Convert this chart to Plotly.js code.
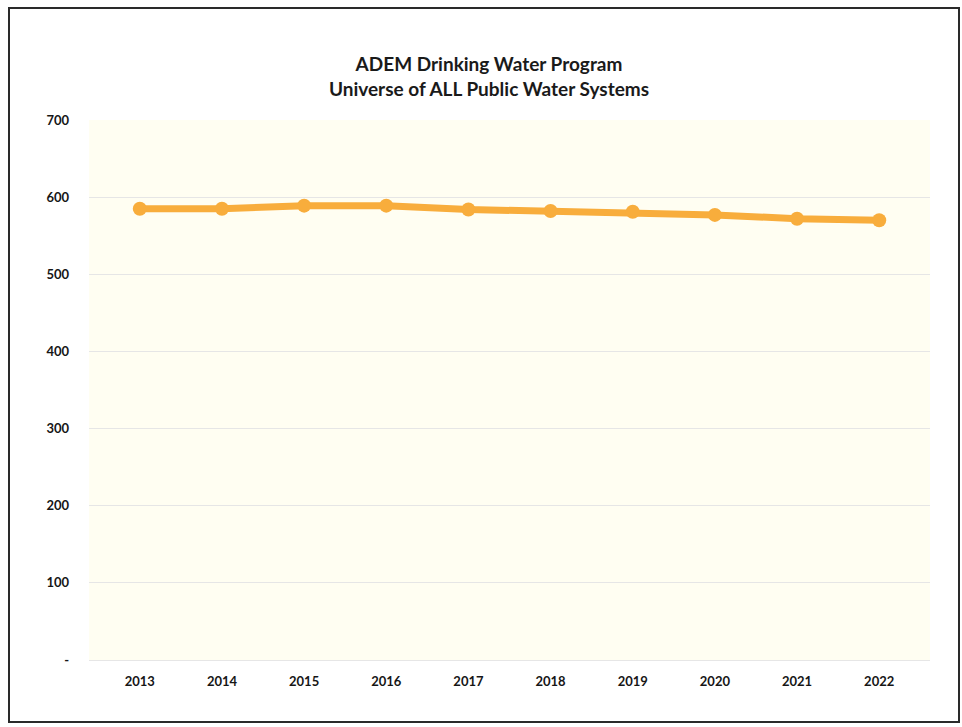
<!DOCTYPE html>
<html>
<head>
<meta charset="utf-8">
<script src="https://cdn.plot.ly/plotly-3.0.1.min.js"></script>
<style>
  html, body { margin: 0; padding: 0; background: #ffffff; }
  #chart { width: 962px; height: 727px; }
</style>
</head>
<body>
<div id="chart"></div>
<script>
const years = ['2013', '2014', '2015', '2016', '2017', '2018', '2019', '2020', '2021', '2022'];
const systems = [585, 585, 589, 589, 584, 582, 581, 577, 572, 570];
const yTickValues = [0, 100, 200, 300, 400, 500, 600, 700];
const yTickLabels = ['-', '100', '200', '300', '400', '500', '600', '700'];
const titleLine1 = 'ADEM Drinking Water Program';
const titleLine2 = 'Universe of ALL Public Water Systems';

const trace = {
  x: years,
  y: systems,
  type: 'scatter',
  mode: 'lines+markers',
  line: { color: '#F8AD3C', width: 7 },
  marker: { color: '#F8AD3C', size: 14 },
  hoverinfo: 'x+y',
  showlegend: false
};

const layout = {
  width: 962,
  height: 727,
  paper_bgcolor: '#ffffff',
  plot_bgcolor: '#FFFEF2',
  margin: { l: 89, r: 32, t: 120, b: 67 },
  font: { family: 'Lato, "Open Sans", sans-serif', color: '#1a1a1a' },
  title: {
    text: '<b>' + titleLine1 + '</b><br><b>' + titleLine2 + '</b>',
    font: { size: 19, color: '#1a1a1a', family: 'Lato, "Open Sans", sans-serif' },
    x: (489 - 89) / 841,
    xanchor: 'center',
    xref: 'paper',
    yref: 'container',
    y: 1 - 71 / 727,
    yanchor: 'middle'
  },
  xaxis: {
    type: 'category',
    showgrid: false,
    showline: false,
    zeroline: false,
    ticks: '',
    tickfont: { size: 13, color: '#161616', family: 'Lato, "Open Sans", sans-serif', weight: 'bold' },
    ticklabelstandoff: 12
  },
  yaxis: {
    range: [0, 700],
    tickvals: yTickValues,
    ticktext: yTickLabels,
    showgrid: true,
    gridcolor: '#E6E6E6',
    gridwidth: 1,
    zeroline: true,
    zerolinecolor: '#E6E6E6',
    zerolinewidth: 1,
    showline: false,
    ticks: '',
    tickfont: { size: 13, color: '#161616', family: 'Lato, "Open Sans", sans-serif', weight: 'bold' },
    ticklabelstandoff: 19
  },
  shapes: [{
    type: 'rect',
    xref: 'paper', yref: 'paper',
    x0: (9 - 89) / 841, x1: (959 - 89) / 841,
    y0: (660 - 722) / 540, y1: (660 - 8) / 540,
    line: { color: '#2a2a2a', width: 2 },
    fillcolor: 'rgba(0,0,0,0)',
    layer: 'above'
  }]
};

Plotly.newPlot('chart', [trace], layout, { displayModeBar: false, staticPlot: true });
</script>
</body>
</html>
